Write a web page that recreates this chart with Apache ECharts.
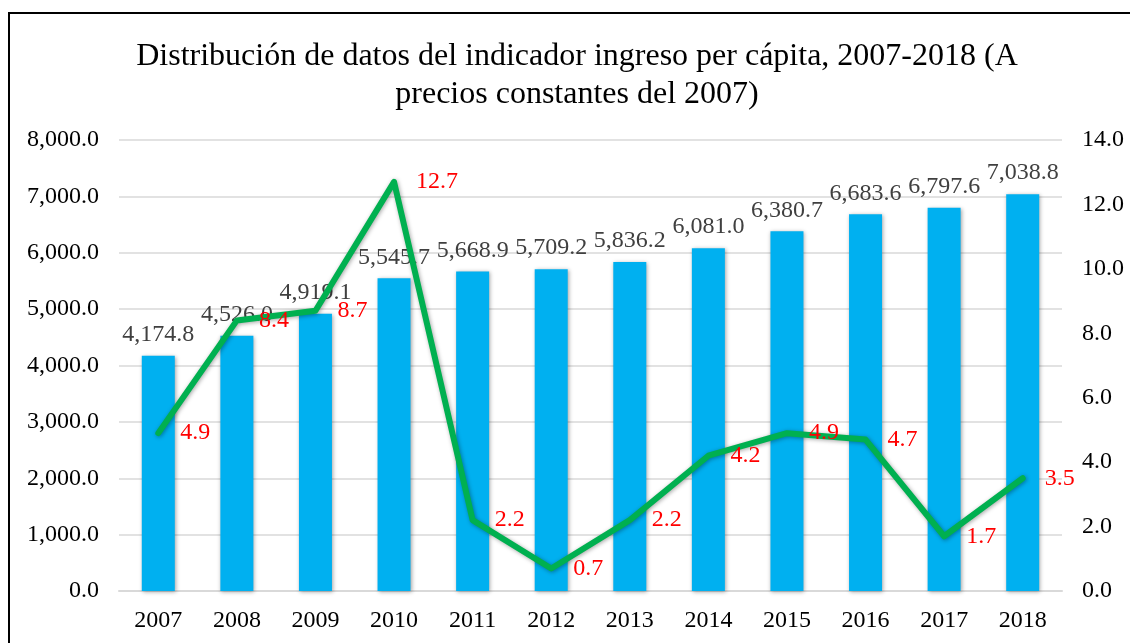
<!DOCTYPE html>
<html>
<head>
<meta charset="utf-8">
<script src="https://cdn.jsdelivr.net/npm/echarts@6/dist/echarts.min.js"></script>
<style>
html,body{margin:0;padding:0;background:#fff;}
#chart{width:1130px;height:643px;}
</style>
</head>
<body>
<div id="chart"></div>
<script>
const years = ['2007','2008','2009','2010','2011','2012','2013','2014','2015','2016','2017','2018'];
const ingresoPerCapita = [4174.8, 4526.0, 4919.1, 5545.7, 5668.9, 5709.2, 5836.2, 6081.0, 6380.7, 6683.6, 6797.6, 7038.8];
const tasaCrecimiento = [4.9, 8.4, 8.7, 12.7, 2.2, 0.7, 2.2, 4.2, 4.9, 4.7, 1.7, 3.5];
const titleText = 'Distribución de datos del indicador ingreso per cápita, 2007-2018 (A\nprecios constantes del 2007)';

const serif = '"Liberation Serif", "DejaVu Serif", serif';
const fmt1 = v => Number(v).toLocaleString('en-US', {minimumFractionDigits: 1, maximumFractionDigits: 1});

const chart = echarts.init(document.getElementById('chart'), null, {renderer: 'canvas'});
chart.setOption({
  animation: false,
  backgroundColor: '#fff',
  graphic: [{
    type: 'rect',
    shape: {x: 9, y: 13, width: 1300, height: 800},
    style: {fill: 'none', stroke: '#000', lineWidth: 2},
    silent: true
  }],
  title: {
    text: titleText,
    left: 572,
    top: 33,
    textAlign: 'center',
    textStyle: {fontFamily: serif, fontSize: 32, fontWeight: 'normal', color: '#000', lineHeight: 38}
  },
  grid: {left: 119, right: 68, top: 140, bottom: 52},
  xAxis: {
    type: 'category',
    data: years,
    axisTick: {show: false},
    axisLine: {lineStyle: {color: '#d9d9d9', width: 2}},
    axisLabel: {fontFamily: serif, fontSize: 24, color: '#000', margin: 18}
  },
  yAxis: [{
    type: 'value', min: 0, max: 8000, interval: 1000,
    axisLabel: {fontFamily: serif, fontSize: 24, color: '#000', margin: 20, formatter: fmt1},
    splitLine: {lineStyle: {color: '#d9d9d9', width: 1.5}},
    axisLine: {show: false}, axisTick: {show: false}
  }, {
    type: 'value', min: 0, max: 14, interval: 2,
    axisLabel: {fontFamily: serif, fontSize: 24, color: '#000', margin: 20, formatter: fmt1},
    splitLine: {show: false},
    axisLine: {show: false}, axisTick: {show: false}
  }],
  series: [{
    type: 'bar',
    data: ingresoPerCapita,
    barWidth: '42%',
    itemStyle: {color: '#00B0F0', shadowBlur: 4, shadowColor: 'rgba(0,0,0,0.35)', shadowOffsetX: 1, shadowOffsetY: 1},
    label: {show: true, position: 'top', distance: 9, fontFamily: serif, fontSize: 24, color: '#404040', formatter: p => fmt1(p.value)}
  }, {
    type: 'line',
    yAxisIndex: 1,
    data: tasaCrecimiento,
    symbol: 'circle',
    symbolSize: 4,
    lineStyle: {color: '#00B050', width: 6, cap: 'round', join: 'round', shadowBlur: 4, shadowColor: 'rgba(0,0,0,0.35)', shadowOffsetX: 1, shadowOffsetY: 1},
    itemStyle: {color: '#00B050'},
    label: {show: true, position: 'right', distance: 20, fontFamily: serif, fontSize: 24, color: '#FF0000', formatter: p => fmt1(p.value)}
  }]
});
</script>
</body>
</html>
